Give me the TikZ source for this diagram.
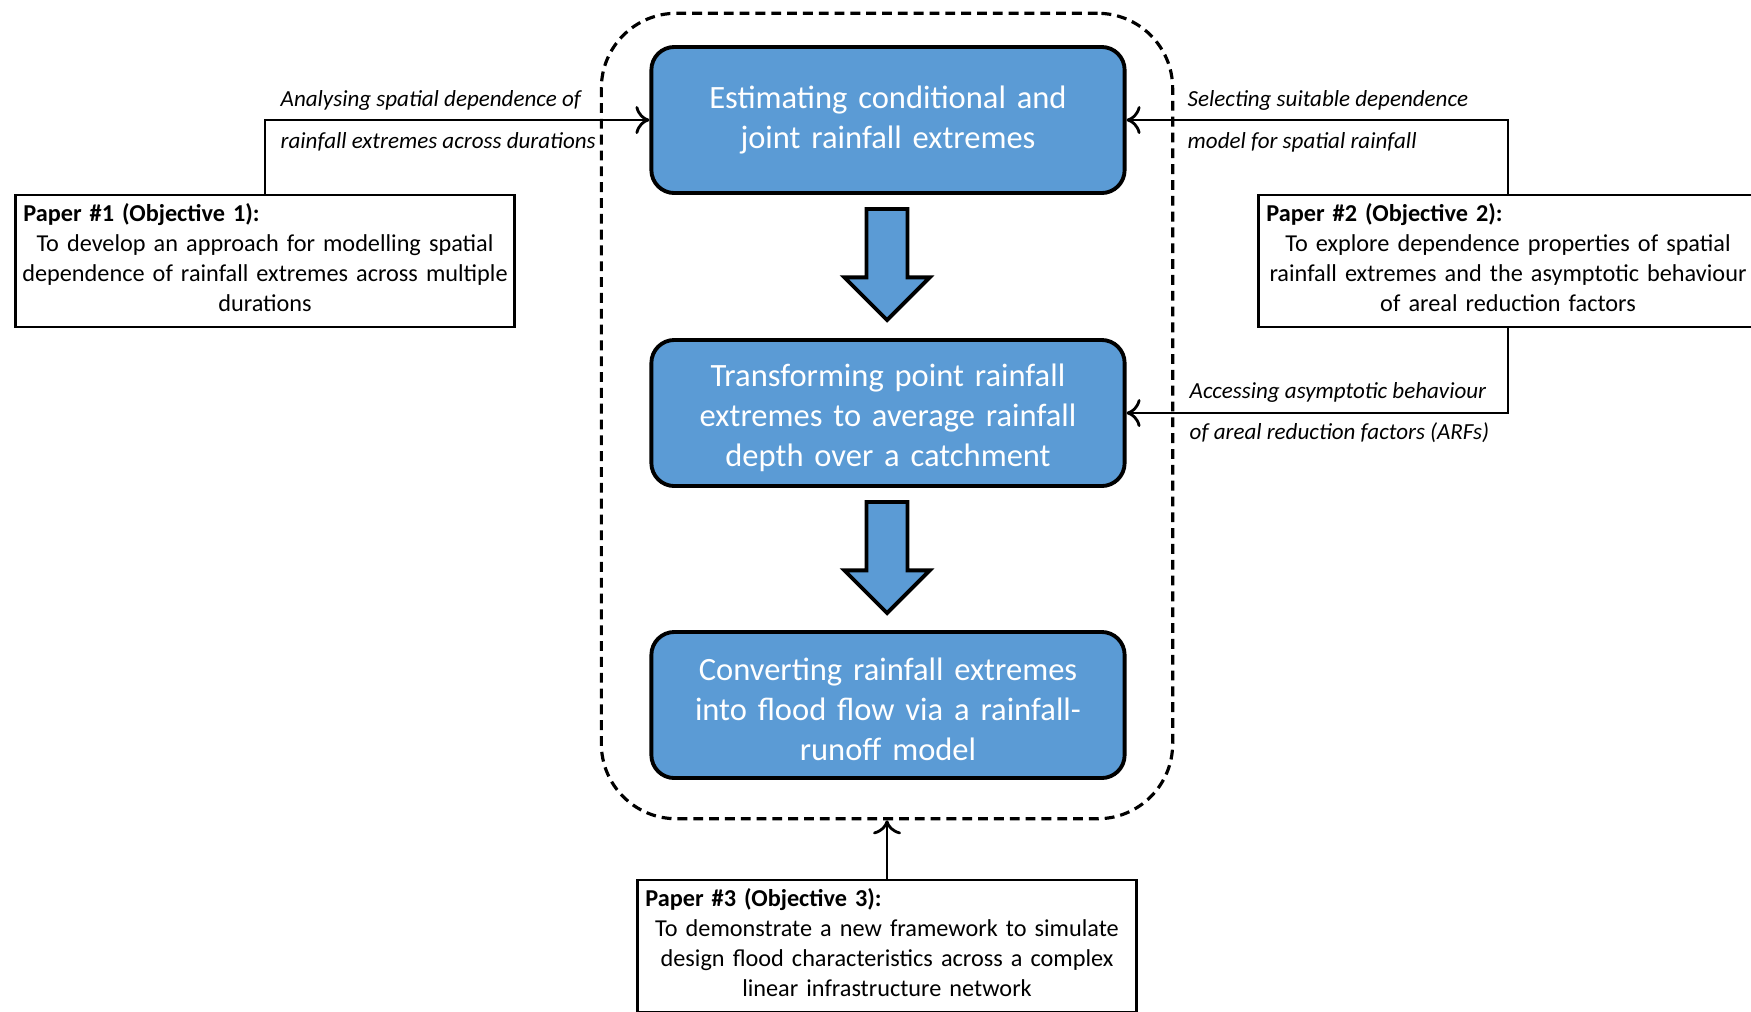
\documentclass[tikz,border=0pt]{standalone}
\usepackage{fontspec}
\setmainfont{Carlito}
\usetikzlibrary{shapes.arrows,arrows.meta}

\definecolor{stepblue}{HTML}{5B9BD5}

\tikzset{
    stepbox/.style={draw, line width=1.1pt, fill=stepblue, rounded corners=0.23cm,
        minimum width=4.73cm, minimum height=1.46cm, text width=4.6cm, align=center,
        text=white, inner sep=0, font=\fontsize{9.25}{11.4}\selectfont},
    paperbox/.style={draw, line width=0.8pt, minimum width=4.99cm, minimum height=1.32cm,
        text width=4.97cm, align=center, inner sep=0, font=\fontsize{6.9}{8.55}\selectfont},
    downarrow/.style={single arrow, draw, line width=1.1pt, fill=stepblue,
        shape border rotate=270, minimum height=1.11cm, minimum width=0.815cm,
        single arrow head extend=0.222cm, inner sep=0.185cm},
    linklabel/.style={anchor=west, inner sep=0, font=\fontsize{6.55}{8}\selectfont\itshape},
    link/.style={line width=0.8pt, -{Computer Modern Rightarrow[length=1.4mm, width=2.8mm]}}
}

\newcommand{\papertitle}[1]{\makebox[4.83cm][l]{\textbf{#1}}}
\newcommand{\lowerfirst}{\rule{0pt}{0.32cm}}
\newcommand{\raiselast}{\rule[-0.07cm]{0pt}{0pt}}

\begin{document}
\begin{tikzpicture}[x=0.01cm, y=-0.01cm]
            \useasboundingbox (0, 0) rectangle (1751, 1011);

            \node (frame) at (887, 416) [draw, dashed, line width=0.9pt, dash pattern=on 2.8pt off 1.7pt,
                rounded corners=0.75cm, minimum width=5.71cm, minimum height=8.05cm] {};

            \node (b1) at (888, 120) [stepbox] {Estimating conditional and\\joint rainfall extremes};
            \node (b2) at (888, 413) [stepbox] {\lowerfirst Transforming point rainfall\\extremes to average rainfall\\depth over a catchment};
            \node (b3) at (888, 705) [stepbox] {\lowerfirst Converting rainfall extremes\\into flood flow via a rainfall-\\runoff model};

            \node (a1) at (887, 207) [downarrow, anchor=tail] {};
            \node (a2) at (887, 500) [downarrow, anchor=tail] {};

            \node (p1) at (265, 261) [paperbox] {\papertitle{Paper \#1 (Objective 1):}\\To develop an approach for modelling spatial\\dependence of rainfall extremes across multiple\\durations\raiselast};
            \node (p2) at (1508, 261) [paperbox] {\papertitle{Paper \#2 (Objective 2):}\\To explore dependence properties of spatial\\rainfall extremes and the asymptotic behaviour\\of areal reduction factors\raiselast};
            \node (p3) at (887, 946) [paperbox] {\papertitle{Paper \#3 (Objective 3):}\\To demonstrate a new framework to simulate\\design flood characteristics across a complex\\linear infrastructure network\raiselast};

            \draw[link] (p1.north) |- (b1.west);
            \draw[link] (p2.north) |- (b1.east);
            \draw[link] (p2.south) |- (b2.east);
            \draw[link] (p3.north) -- (frame.south);

            \node (l1) at (280, 100) [linklabel] {Analysing spatial dependence of};
            \node (l2) at (280, 142) [linklabel] {rainfall extremes across durations};
            \node (l3) at (1187, 100) [linklabel] {Selecting suitable dependence};
            \node (l4) at (1187, 142) [linklabel] {model for spatial rainfall};
            \node (l5) at (1189, 392) [linklabel] {Accessing asymptotic behaviour};
            \node (l6) at (1189, 433) [linklabel] {of areal reduction factors (ARFs)};

        \end{tikzpicture}
\end{document}
